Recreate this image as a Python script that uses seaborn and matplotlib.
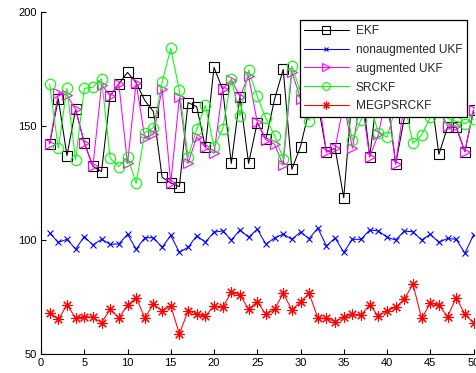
import numpy as np
import pandas as pd
import matplotlib
matplotlib.use("Agg")
import matplotlib.pyplot as plt
import seaborn as sns

steps = list(range(1, 51))
ekf = [142.2, 162, 137, 157.3, 142.7, 132.3, 130, 163.3, 168.5, 173.5,
       169, 161.2, 156.3, 127.5, 125, 123.4, 160.3, 158.5, 140.7, 175.7,
       166.1, 133.6, 162.9, 133.6, 151.5, 144.2, 161.7, 174.8, 131, 141,
       157, 160, 138.6, 140.2, 118.5, 165, 170, 136.5, 168, 163,
       133.3, 153.4, 172, 160, 166, 137.6, 149.5, 149.5, 138.7, 157]
nonaug_ukf = [103, 99, 100.3, 96, 101.5, 97.8, 100.3, 98.1, 98.3, 102.5,
              96, 101, 101, 96.8, 102, 94.6, 96.8, 101.8, 99.1, 103.4,
              104, 100, 104.4, 101.2, 104.7, 98.2, 100.9, 102.6, 100.3, 103.5,
              100.6, 105.2, 97.4, 100.9, 94.6, 100.3, 100.3, 104.4, 104, 101.2,
              100, 103.9, 103.6, 100, 102.5, 99, 100.7, 100.3, 94.2, 102.2]
aug_ukf = [142.2, 164.5, 163.5, 157.3, 142.7, 132.3, 168, 163.3, 168.5, 133.6,
           169, 144.8, 146.3, 166.3, 125, 162.5, 133.6, 145.3, 140.7, 138,
           166.1, 170.3, 162.9, 172, 151.7, 144, 142, 132.9, 173.8, 162,
           158, 165, 138.6, 140.2, 160, 140.2, 163, 136.5, 146.3, 165,
           133.3, 160, 168, 162, 166, 158, 150, 150, 138.7, 157]
srckf = [168.4, 140.2, 166.5, 135, 166.5, 167, 170.7, 135.8, 132.2, 136.6,
         124.8, 147, 149.3, 169.2, 184, 165.6, 136.4, 148.5, 159, 140.9,
         148.6, 170.7, 154.4, 174.6, 163, 153.4, 145.8, 135.6, 176.3, 165,
         152.4, 163, 160, 168, 162, 143.9, 152.8, 160, 147, 145.1,
         158, 160, 142.4, 146, 153.8, 158, 153.4, 152, 151, 153]
megpsrckf = [68.1, 65.2, 71.5, 65.9, 66.4, 66.1, 63.7, 69.6, 65.9, 71.3,
             74.7, 65.9, 71.9, 69, 71.1, 58.8, 69, 67.4, 66.7, 71.1,
             70.5, 77, 76, 69.6, 72.9, 67.4, 69.6, 76.6, 69.3, 72.9,
             76.6, 65.9, 65.6, 64.2, 66.1, 67.4, 67.1, 71.5, 66.7, 69,
             70.5, 74, 80.7, 65.6, 72.2, 71.5, 66.4, 74.7, 67.4, 63.7]

labels = ["EKF", "nonaugmented UKF", "augmented UKF", "SRCKF", "MEGPSRCKF"]
series = [ekf, nonaug_ukf, aug_ukf, srckf, megpsrckf]
colors = ["#000000", "#0000ff", "#ff00ff", "#00ff00", "#ff0000"]
markers = ["s", "x", ">", "o", (8, 2, 0)]
msizes = [7.5, 4.5, 7.5, 7.5, 7.5]

sns.set_style("ticks")
plt.rcParams["font.family"] = ["Liberation Sans", "DejaVu Sans"]
plt.rcParams["xtick.direction"] = "in"
plt.rcParams["ytick.direction"] = "in"

fig = plt.figure(figsize=(4.76, 3.73), dpi=100)
ax = fig.add_axes([41 / 476, 19 / 373, 432.5 / 476, 342 / 373])

for lab, vals, c, m, ms in zip(labels, series, colors, markers, msizes):
    df = pd.DataFrame({"step": steps, "val": vals})
    sns.lineplot(data=df, x="step", y="val", ax=ax, color=c, marker=m,
                 markersize=ms, mfc="none", mec=c, mew=0.8, lw=0.75,
                 label=lab, errorbar=None)

ax.set_xlim(0, 50)
ax.set_ylim(50, 200)
ax.set_xticks(range(0, 51, 5))
ax.set_yticks([50, 100, 150, 200])
ax.set_xlabel("")
ax.set_ylabel("")
ax.tick_params(labelsize=8, length=3.5, width=0.8, colors="black", pad=3)
for s in ["top", "right"]:
    ax.spines[s].set_visible(False)
for s in ["left", "bottom"]:
    ax.spines[s].set_linewidth(0.8)
    ax.spines[s].set_color("black")

leg = ax.legend(loc="upper right", bbox_to_anchor=((467 - 41) / 432.5, 1 - 8 / 342),
                borderaxespad=0, fontsize=8.6, frameon=True, fancybox=False,
                framealpha=1, edgecolor="black", handlelength=3.7,
                handletextpad=0.6, labelspacing=0.58, markerscale=0.75,
                borderpad=0.4)
leg.get_frame().set_linewidth(0.9)

fig.savefig("out.png", dpi=100)
